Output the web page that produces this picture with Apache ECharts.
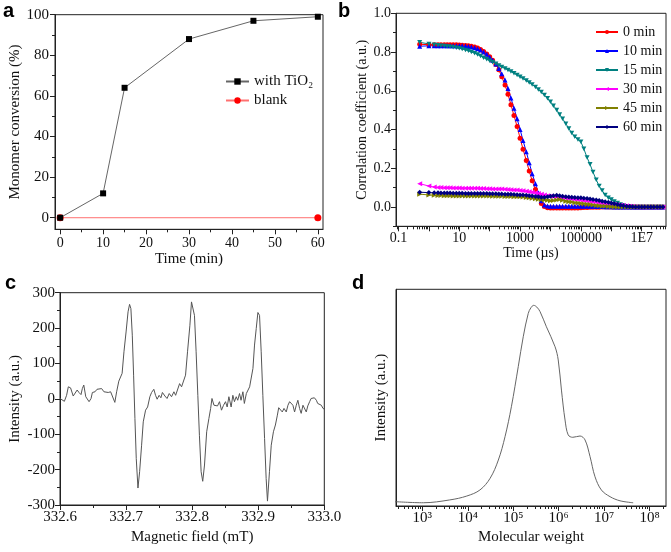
<!DOCTYPE html>
<html><head><meta charset="utf-8">
<script src="https://cdn.jsdelivr.net/npm/echarts@6/dist/echarts.min.js"></script>
<style>html,body{margin:0;padding:0;background:#fff}#c{width:671px;height:552px}</style>
</head><body><div id="c"></div><script>
// ---------- Panel a : monomer conversion ----------
const a_time = [0, 10, 15, 30, 45, 60];
const a_with_tio2 = [0, 12, 64, 88, 97, 99];
const a_blank_time = [0, 60];
const a_blank = [0, 0];
const a_x_ticks = [0, 10, 20, 30, 40, 50, 60];
const a_x_labels = ['0', '10', '20', '30', '40', '50', '60'];
const a_x_minor = [5, 15, 25, 35, 45, 55];
const a_y_ticks = [0, 20, 40, 60, 80, 100];
const a_y_labels = ['0', '20', '40', '60', '80', '100'];
const a_y_minor = [10, 30, 50, 70, 90];

// ---------- Panel b : DLS correlation (time in µs) ----------
const b_time = [0.5, 1, 1.5, 2, 2.5, 3.2, 4, 5, 6.3, 8,
  10, 12.5, 16, 20, 25, 32, 40, 50, 63, 80,
  100, 125, 160, 200, 250, 320, 400, 500, 630, 800,
  1000, 1250, 1600, 2000, 2500, 3200, 4000, 5000, 6300, 8000,
  10000, 12500, 16000, 20000, 25000, 32000, 40000, 50000, 63000, 80000,
  1e5, 1.25e5, 1.6e5, 2e5, 2.5e5, 3.2e5, 4e5, 5e5, 6.3e5, 8e5,
  1e6, 1.25e6, 1.6e6, 2e6, 2.5e6, 3.2e6, 4e6, 5e6, 6.3e6, 8e6,
  1e7, 1.25e7, 1.6e7, 2e7, 2.5e7, 3.2e7, 4e7, 5e7];
const b_0min = [0.840, 0.838, 0.838, 0.838, 0.838, 0.838, 0.838, 0.837, 0.837, 0.837,
  0.836, 0.835, 0.834, 0.832, 0.830, 0.826, 0.821, 0.813, 0.803, 0.790,
  0.775, 0.757, 0.736, 0.708, 0.672, 0.630, 0.582, 0.528, 0.472, 0.415,
  0.355, 0.298, 0.240, 0.185, 0.135, 0.090, 0.050, 0.018, 0.002, -0.004,
  -0.005, -0.005, -0.005, -0.005, -0.005, -0.005, -0.005, -0.005, -0.005, -0.005,
  -0.004, -0.003, -0.003, -0.002, -0.002, -0.001, -0.001, 0, 0, 0,
  0, 0, 0, 0, 0, 0, 0, 0, 0, 0,
  0, 0, 0, 0, 0, 0, 0, 0];
const b_10min = [0.830, 0.832, 0.833, 0.833, 0.833, 0.833, 0.833, 0.833, 0.833, 0.833,
  0.833, 0.832, 0.831, 0.829, 0.826, 0.822, 0.817, 0.810, 0.800, 0.788,
  0.773, 0.757, 0.738, 0.715, 0.688, 0.655, 0.612, 0.562, 0.510, 0.455,
  0.400, 0.343, 0.285, 0.228, 0.172, 0.120, 0.072, 0.032, 0.010, 0.005,
  0.004, 0.004, 0.004, 0.004, 0.004, 0.004, 0.004, 0.004, 0.004, 0.004,
  0.004, 0.004, 0.003, 0.003, 0.003, 0.002, 0.002, 0.002, 0.001, 0.001,
  0.001, 0, 0, 0, 0, 0, 0, 0, 0, 0,
  0, 0, 0, 0, 0, 0, 0, 0];
const b_15min = [0.850, 0.842, 0.838, 0.835, 0.833, 0.831, 0.829, 0.827, 0.825, 0.822,
  0.819, 0.815, 0.811, 0.806, 0.800, 0.794, 0.787, 0.779, 0.771, 0.763,
  0.755, 0.747, 0.739, 0.731, 0.723, 0.715, 0.707, 0.699, 0.690, 0.681,
  0.672, 0.663, 0.653, 0.643, 0.632, 0.620, 0.607, 0.593, 0.578, 0.561,
  0.543, 0.523, 0.501, 0.478, 0.455, 0.430, 0.405, 0.382, 0.362, 0.348,
  0.336, 0.300, 0.255, 0.220, 0.180, 0.140, 0.108, 0.085, 0.062, 0.048,
  0.038, 0.028, 0.020, 0.013, 0.008, 0.004, 0.002, 0, 0, 0,
  0, 0, 0, 0, 0, 0, 0, 0];
const b_30min = [0.120, 0.108, 0.103, 0.101, 0.100, 0.099, 0.099, 0.099, 0.098, 0.098,
  0.098, 0.097, 0.097, 0.097, 0.096, 0.096, 0.096, 0.095, 0.095, 0.094,
  0.094, 0.093, 0.093, 0.092, 0.092, 0.091, 0.090, 0.089, 0.088, 0.087,
  0.085, 0.083, 0.081, 0.079, 0.076, 0.073, 0.070, 0.066, 0.062, 0.058,
  0.055, 0.053, 0.051, 0.049, 0.047, 0.045, 0.043, 0.041, 0.039, 0.037,
  0.035, 0.032, 0.030, 0.028, 0.026, 0.024, 0.022, 0.020, 0.018, 0.016,
  0.014, 0.012, 0.010, 0.009, 0.008, 0.006, 0.004, 0.002, 0.001, 0,
  0, 0, 0, 0, 0, 0, 0, 0];
const b_45min = [0.066, 0.062, 0.060, 0.059, 0.059, 0.058, 0.058, 0.058, 0.057, 0.057,
  0.057, 0.057, 0.057, 0.057, 0.056, 0.056, 0.056, 0.056, 0.056, 0.056,
  0.056, 0.055, 0.055, 0.055, 0.055, 0.054, 0.054, 0.054, 0.053, 0.053,
  0.052, 0.051, 0.049, 0.047, 0.045, 0.042, 0.040, 0.038, 0.036, 0.034,
  0.032, 0.033, 0.036, 0.038, 0.035, 0.030, 0.027, 0.025, 0.022, 0.020,
  0.018, 0.016, 0.014, 0.012, 0.010, 0.008, 0.006, 0.004, 0.003, 0.002,
  0.001, 0, 0, 0, 0, 0, 0, 0, 0, 0,
  0, 0, 0, 0, 0, 0, 0, 0];
const b_60min = [0.076, 0.074, 0.073, 0.073, 0.072, 0.072, 0.072, 0.072, 0.071, 0.071,
  0.071, 0.071, 0.070, 0.070, 0.070, 0.070, 0.069, 0.069, 0.069, 0.069,
  0.068, 0.068, 0.068, 0.067, 0.067, 0.066, 0.066, 0.065, 0.064, 0.063,
  0.062, 0.061, 0.060, 0.058, 0.056, 0.054, 0.052, 0.050, 0.050, 0.052,
  0.055, 0.058, 0.060, 0.058, 0.055, 0.053, 0.051, 0.050, 0.049, 0.048,
  0.047, 0.045, 0.043, 0.041, 0.039, 0.036, 0.033, 0.030, 0.027, 0.024,
  0.020, 0.016, 0.012, 0.009, 0.006, 0.004, 0.002, 0.001, 0, 0,
  0, 0, 0, 0, 0, 0, 0, 0];
const b_series_names = ['0 min', '10 min', '15 min', '30 min', '45 min', '60 min'];
const b_x_min = 0.083, b_x_max = 6.3e7;
const b_x_decades = [0.1, 1, 10, 100, 1000, 1e4, 1e5, 1e6, 1e7];
const b_x_label_values = [0.1, 10, 1000, 1e5, 1e7];
const b_x_labels = ['0.1', '10', '1000', '100000', '1E7'];
const b_y_ticks = [0, 0.2, 0.4, 0.6, 0.8, 1.0];
const b_y_labels = ['0.0', '0.2', '0.4', '0.6', '0.8', '1.0'];
const b_y_minor = [-0.1, 0.1, 0.3, 0.5, 0.7, 0.9];

// ---------- Panel c : EPR spectrum ----------
const c_field = [332.600, 332.6025, 332.6066, 332.610, 332.6126, 332.616, 332.620, 332.6227, 332.626, 332.6287,
  332.6318, 332.6338, 332.636, 332.639, 332.641, 332.644, 332.647, 332.649, 332.653, 332.656,
  332.659, 332.663, 332.6665, 332.6695, 332.673, 332.6766, 332.6796, 332.683, 332.6857, 332.689,
  332.6917, 332.694, 332.6968, 332.700, 332.703, 332.7053, 332.7073, 332.7094, 332.7114, 332.7134,
  332.7154, 332.718, 332.7205, 332.7235, 332.726, 332.7295, 332.7326, 332.736, 332.7386, 332.742,
  332.7446, 332.747, 332.750, 332.7527, 332.755, 332.7588, 332.762, 332.7653, 332.7688, 332.7724,
  332.775, 332.778, 332.781, 332.784, 332.787, 332.790, 332.793, 332.7966, 332.799, 332.801,
  332.8035, 332.806, 332.8086, 332.811, 332.8136, 332.816, 332.8187, 332.822, 332.8253, 332.828,
  332.830, 332.833, 332.8353, 332.8384, 332.8414, 332.8444, 332.8475, 332.8505, 332.853, 332.8556,
  332.859, 332.8616, 332.864, 332.8667, 332.869, 332.8717, 332.874, 332.8768, 332.879, 332.882,
  332.8843, 332.887, 332.889, 332.892, 332.8944, 332.897, 332.8995, 332.902, 332.9045, 332.907,
  332.9096, 332.912, 332.914, 332.917, 332.9197, 332.923, 332.926, 332.929, 332.931, 332.934,
  332.9364, 332.939, 332.9424, 332.945, 332.9475, 332.950, 332.9525, 332.955, 332.9576, 332.960,
  332.9626, 332.965, 332.9677, 332.970, 332.9727, 332.975, 332.9778, 332.980, 332.983, 332.985,
  332.988, 332.990, 332.993, 332.9955, 332.998, 333.000];
const c_intensity = [1, -4, -7, 10, 34, 31, 8, 6, 25, 18,
  12, 29, 39, 6, 3, -8, 1, 18, 20, 27,
  22, 29, 20, 25, 18, 20, 22, -10, 20, 50,
  53, 72, 133, 189, 246, 267, 255, 180, 67, -56,
  -169, -252, -206, -131, -65, -32, -23, 6, 18, 27,
  10, -1, 10, 3, 18, 8, 1, 15, 6, 20,
  10, 8, 43, 34, 39, 67, 133, 208, 274, 279,
  236, 133, 10, -103, -206, -233, -187, -93, -56, -27,
  1, -18, -13, -20, -8, -32, -18, -8, -23, 6,
  -23, 10, -8, 6, -4, 15, -4, 20, -13, 15,
  15, 34, 39, 86, 152, 199, 244, 236, 133, 10,
  -112, -225, -289, -206, -131, -93, -74, -46, -25, -29,
  -37, -27, -37, -18, -8, -4, -18, -37, -18, -4,
  -27, -41, -18, -13, -37, -20, -8, 1, -4, 3,
  -4, -13, -8, -18, -27, -29];
const c_x_ticks = [332.6, 332.7, 332.8, 332.9, 333.0];
const c_x_labels = ['332.6', '332.7', '332.8', '332.9', '333.0'];
const c_x_minor = [332.65, 332.75, 332.85, 332.95];
const c_y_ticks = [-300, -200, -100, 0, 100, 200, 300];
const c_y_labels = ['-300', '-200', '-100', '0', '100', '200', '300'];
const c_y_minor = [-250, -150, -50, 50, 150, 250];

// ---------- Panel d : molecular weight distribution ----------
const d_mw = [250, 1050, 4000, 9500, 18500, 31000, 47000, 66000, 91000, 129000,
  166000, 214000, 245000, 282000, 330000, 389000, 537000, 832000, 977000, 1150000,
  1380000, 1620000, 2040000, 2950000, 3800000, 4900000, 6300000, 8700000, 13500000, 22400000, 43600000];
const d_intensity = [2.0, 1.5, 2.8, 4.6, 7.4, 12.8, 21.2, 32.0, 45.8, 64.3,
  78.1, 88.9, 91.5, 92.6, 91.8, 89.7, 82.7, 73.5, 67.4, 53.5,
  39.7, 32.8, 31.7, 32.3, 30.5, 22.8, 13.5, 7.4, 4.3, 2.4, 1.5];
const d_x_min = 263, d_x_max = 2.3e8;
const d_x_decades = [1e3, 1e4, 1e5, 1e6, 1e7, 1e8];
const d_x_labels = ['10³', '10⁴', '10⁵', '10⁶', '10⁷', '10⁸'];

// ---------- helpers ----------
const SERIF = '"Liberation Serif", "Times New Roman", serif';
const AX = '#222';
const TXT = '#111';

function dataAxis(grid, pos, min, max, type) {
  return { type: type || 'value', gridIndex: grid, position: pos, min: min, max: max, show: false,
    axisLine: { onZero: false }, splitLine: { show: false } };
}
function tickAxis(grid, pos, min, max, tickVals, tickLen, labelVals, labels, opts) {
  opts = opts || {};
  const ax = {
    type: 'value', gridIndex: grid, position: pos, min: min, max: max,
    axisLine: { show: !!opts.line, onZero: false, lineStyle: { color: AX, width: 1 } },
    axisTick: { show: true, customValues: tickVals, length: tickLen, inside: false, lineStyle: { color: AX, width: 1 } },
    splitLine: { show: false },
    axisLabel: labelVals ? {
      show: true, customValues: labelVals,
      formatter: function (v) {
        for (let i = 0; i < labelVals.length; i++) if (Math.abs(labelVals[i] - v) < 1e-6) return labels[i];
        return '';
      },
      fontFamily: SERIF, fontSize: opts.fontSize || 14, color: TXT, margin: opts.margin == null ? 5 : opts.margin
    } : { show: false }
  };
  if (opts.name) {
    ax.name = opts.name; ax.nameLocation = 'middle'; ax.nameGap = opts.nameGap;
    ax.nameTextStyle = { fontFamily: SERIF, fontSize: opts.nameSize || 15, color: TXT };
  }
  return ax;
}
function logMinor(lo, hi) {
  const out = [];
  for (let e = Math.floor(lo); e <= Math.ceil(hi); e++)
    for (let m = 2; m <= 9; m++) { const v = e + Math.log10(m); if (v > lo && v < hi) out.push(v); }
  return out;
}
const L = Math.log10;

const bxl = L(b_x_min), bxh = L(b_x_max);
const dxl = L(d_x_min), dxh = L(d_x_max);

const grids = [
  { left: 55, top: 14.7, width: 268, height: 214.6 },
  { left: 396, top: 13.3, width: 270, height: 213 },
  { left: 60, top: 292.7, width: 264.3, height: 212.3 },
  { left: 396, top: 289.3, width: 270, height: 216.7 }
].map(g => Object.assign(g, { show: true, borderColor: AX, borderWidth: 1, backgroundColor: 'transparent' }));

const xAxis = [
  dataAxis(0, 'bottom', -1.2, 61.2),
  tickAxis(0, 'bottom', -1.2, 61.2, a_x_ticks, 5, a_x_ticks, a_x_labels, { line: true, name: 'Time (min)', nameGap: 19, margin: 7 }),
  tickAxis(0, 'bottom', -1.2, 61.2, a_x_minor, 3),
  dataAxis(1, 'bottom', b_x_min, b_x_max, 'log'),
  tickAxis(1, 'bottom', bxl, bxh, b_x_decades.map(L), 5, b_x_label_values.map(L), b_x_labels, { line: true, name: 'Time (µs)', nameGap: 16, nameSize: 14, margin: 5 }),
  tickAxis(1, 'bottom', bxl, bxh, logMinor(bxl, bxh), 3),
  dataAxis(2, 'bottom', 332.6, 333.0),
  tickAxis(2, 'bottom', 332.6, 333.0, c_x_ticks, 5, c_x_ticks, c_x_labels, { line: true, name: 'Magnetic field (mT)', nameGap: 25, margin: 5, fontSize: 15 }),
  tickAxis(2, 'bottom', 332.6, 333.0, c_x_minor, 3),
  dataAxis(3, 'bottom', d_x_min, d_x_max, 'log'),
  tickAxis(3, 'bottom', dxl, dxh, d_x_decades.map(L), 5, d_x_decades.map(L), d_x_labels, { line: true, name: 'Molecular weight', nameGap: 24, margin: 5, fontSize: 15 }),
  tickAxis(3, 'bottom', dxl, dxh, logMinor(dxl, dxh), 3)
];
const yAxis = [
  dataAxis(0, 'left', -5.7, 100),
  tickAxis(0, 'left', -5.7, 100, a_y_ticks, 5, a_y_ticks, a_y_labels, { line: true, name: 'Monomer conversion (%)', nameGap: 27, margin: 6, fontSize: 15 }),
  tickAxis(0, 'left', -5.7, 100, a_y_minor, 3),
  dataAxis(1, 'left', -0.1, 1.0),
  tickAxis(1, 'left', -0.1, 1.0, b_y_ticks, 5, b_y_ticks, b_y_labels, { line: true, name: 'Correlation coefficient (a.u.)', nameGap: 27, nameSize: 14, margin: 5 }),
  tickAxis(1, 'left', -0.1, 1.0, b_y_minor, 3),
  dataAxis(2, 'left', -300, 300),
  tickAxis(2, 'left', -300, 300, c_y_ticks, 5, c_y_ticks, c_y_labels, { line: true, name: 'Intensity (a.u.)', nameGap: 37, margin: 5, fontSize: 15 }),
  tickAxis(2, 'left', -300, 300, c_y_minor, 3),
  { type: 'value', gridIndex: 3, position: 'left', min: 0, max: 100,
    axisLine: { show: true, onZero: false, lineStyle: { color: AX } }, axisTick: { show: false }, axisLabel: { show: false }, splitLine: { show: false },
    name: 'Intensity (a.u.)', nameLocation: 'middle', nameGap: 7, nameTextStyle: { fontFamily: SERIF, fontSize: 15, color: TXT } }
];

const zip = (xs, ys) => xs.map((x, i) => [x, ys[i]]);
const bColors = ['#ff0000', '#0000ff', '#008080', '#ff00ff', '#808000', '#000080'];
const bSymbols = ['circle', 'triangle', 'path://M0,0L10,0L5,9Z', 'path://M10,0L10,10L0,5Z', 'path://M0,0L0,10L10,5Z', 'diamond'];
const bData = [b_0min, b_10min, b_15min, b_30min, b_45min, b_60min];

const series = [
  { type: 'line', name: 'with TiO₂', xAxisIndex: 0, yAxisIndex: 0, data: zip(a_time, a_with_tio2),
    symbol: 'rect', symbolSize: 6, itemStyle: { color: '#000' }, lineStyle: { color: '#666', width: 1 }, z: 4 },
  { type: 'line', name: 'blank', xAxisIndex: 0, yAxisIndex: 0, data: zip(a_blank_time, a_blank),
    symbol: 'circle', symbolSize: 7, itemStyle: { color: '#ff0000' }, lineStyle: { color: '#ff7070', width: 1 }, z: 3 }
];
bData.forEach((ys, k) => {
  series.push({ type: 'line', name: b_series_names[k], xAxisIndex: 3, yAxisIndex: 3, data: zip(b_time, ys),
    symbol: bSymbols[k], symbolSize: 5, symbolKeepAspect: true,
    itemStyle: { color: bColors[k] }, lineStyle: { color: bColors[k], width: 1 } });
});
series.push({ type: 'line', name: 'epr', xAxisIndex: 6, yAxisIndex: 6, data: zip(c_field, c_intensity),
  symbol: 'none', lineStyle: { color: '#555', width: 1 } });
series.push({ type: 'line', name: 'mwd', xAxisIndex: 9, yAxisIndex: 9, data: zip(d_mw, d_intensity),
  symbol: 'none', smooth: 0.35, lineStyle: { color: '#666', width: 1 } });

const legendText = { fontFamily: SERIF, color: TXT };
const option = {
  animation: false,
  backgroundColor: '#fff',
  grid: grids,
  xAxis: xAxis,
  yAxis: yAxis,
  legend: [
    { data: ['with TiO₂', 'blank'], orient: 'vertical', left: 225, top: 74, padding: 0, itemWidth: 23, itemHeight: 8, itemGap: 4,
      textStyle: Object.assign({ fontSize: 15 }, legendText), selectedMode: false },
    { data: b_series_names, orient: 'vertical', left: 595, top: 25, padding: 0, itemWidth: 22, itemHeight: 5, itemGap: 5,
      textStyle: Object.assign({ fontSize: 14 }, legendText), selectedMode: false }
  ],
  graphic: [
    { type: 'text', left: 3, top: 1, style: { text: 'a', font: 'bold 20px "Liberation Sans", Arial, sans-serif', fill: '#000' } },
    { type: 'text', left: 338, top: 1, style: { text: 'b', font: 'bold 20px "Liberation Sans", Arial, sans-serif', fill: '#000' } },
    { type: 'text', left: 5, top: 273, style: { text: 'c', font: 'bold 20px "Liberation Sans", Arial, sans-serif', fill: '#000' } },
    { type: 'text', left: 352, top: 273, style: { text: 'd', font: 'bold 20px "Liberation Sans", Arial, sans-serif', fill: '#000' } }
  ],
  series: series
};
const chart = echarts.init(document.getElementById('c'), null, { renderer: 'canvas' });
chart.setOption(option);
</script></body></html>
